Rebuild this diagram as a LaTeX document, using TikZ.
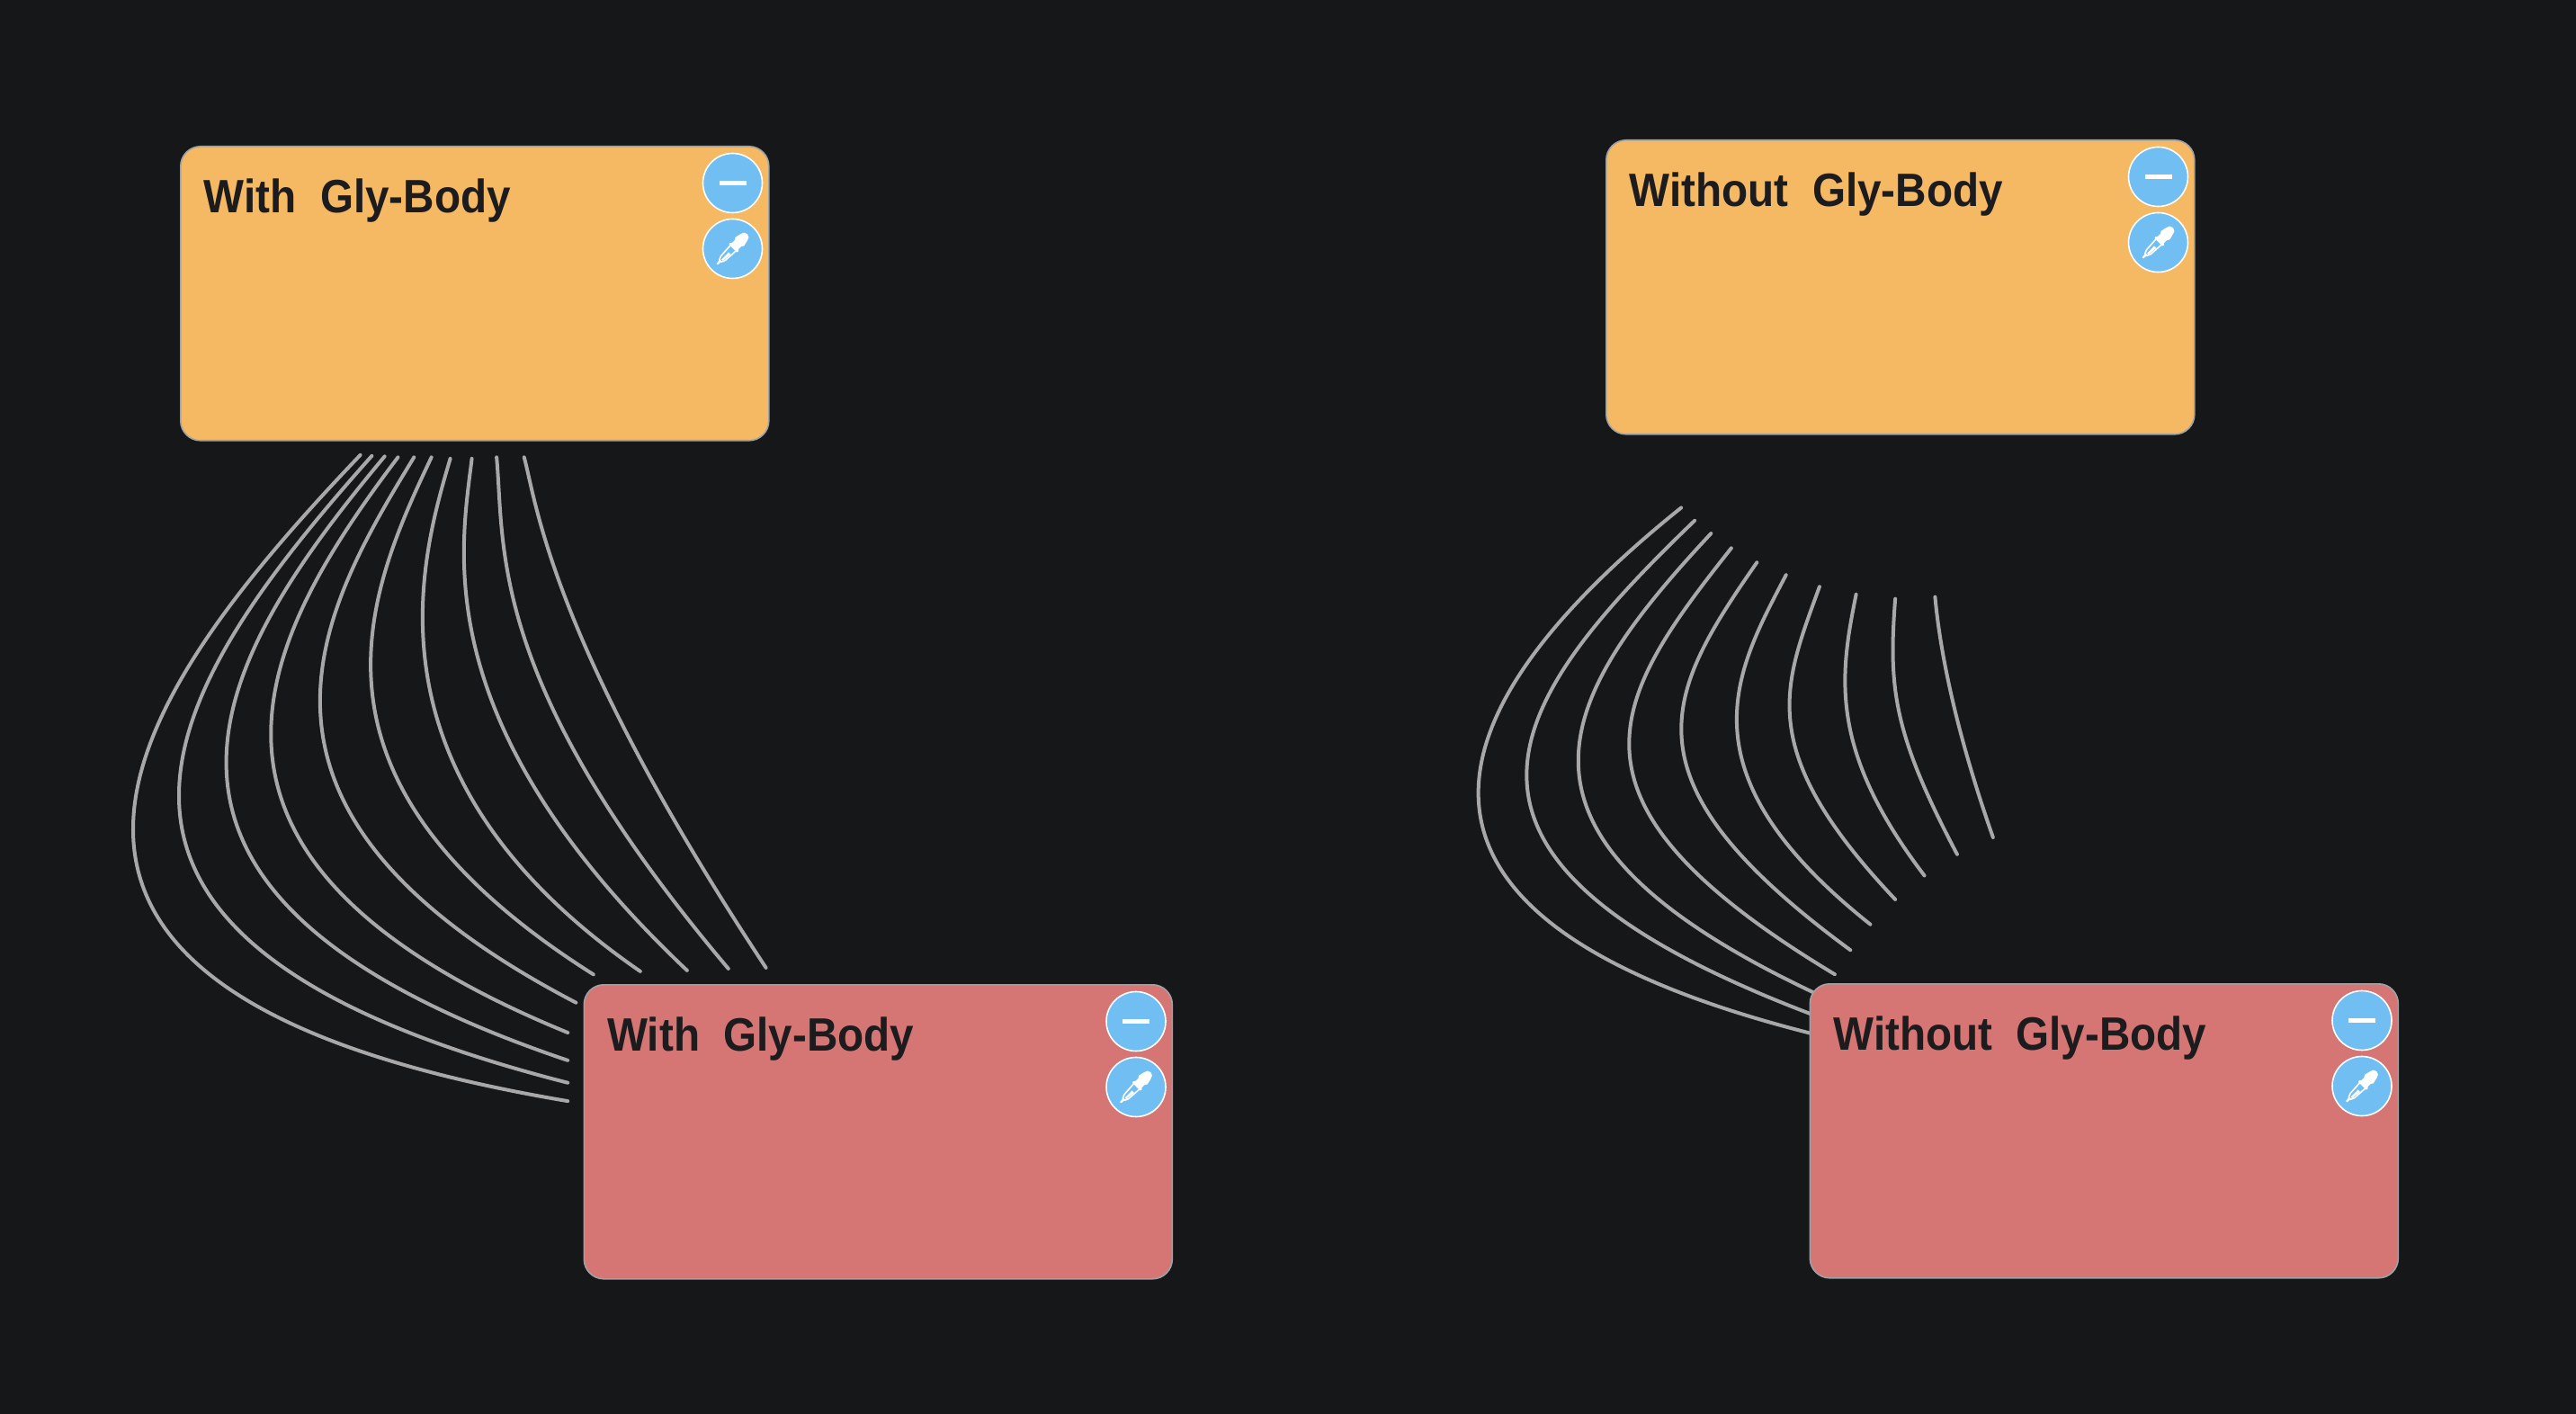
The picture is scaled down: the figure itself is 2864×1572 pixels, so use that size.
\documentclass[tikz,border=0pt]{standalone}
\usepackage{fontspec}
\setmainfont{Liberation Sans}[BoldFeatures={FakeStretch=0.916}]
\definecolor{bgc}{HTML}{151719}
\definecolor{orangec}{HTML}{F4B962}
\definecolor{redc}{HTML}{D67674}
\definecolor{edgec}{HTML}{9EA2A6}
\definecolor{linec}{HTML}{A8A8A8}
\definecolor{btnc}{HTML}{70BEF2}
\definecolor{inkc}{HTML}{1C1C1E}
\tikzset{
  card/.style={draw=edgec,line width=0.8pt,rounded corners=11pt,minimum width=327pt,minimum height=163.5pt,inner sep=0pt},
  cardtitle/.style={anchor=base west,inner sep=0pt,text=inkc,font=\fontsize{26pt}{30pt}\selectfont\bfseries},
  btn/.style={circle,draw=white,line width=0.8pt,fill=btnc,minimum size=33pt,inner sep=0pt},
  fibre/.style={draw=linec,line width=2pt,line cap=round},
}
\newcommand{\cardat}[5]{%
  \node[card,fill=#2,anchor=north west] (#1) at (#3-1.5,#4) {};
  \node[cardtitle] (#1t) at (#3+25,#4+74.5) {#5};
  \node[btn] (#1m) at (#3+613,#4+41.5) {};
  \node[btn] (#1d) at (#3+613,#4+114.5) {};
  \fill[white] ([xshift=-7.5pt,yshift=-1.3pt]#1m.center) rectangle ([xshift=7.5pt,yshift=1.3pt]#1m.center);
  \begin{scope}[shift={(#1d.center)},rotate=45,x=1pt,y=1pt]
    \fill[white] (2.2,-2.5) -- (4.2,-2.5) .. controls (5,-2.5) and (5,-3.4) .. (5.6,-3.4) -- (9,-2.6)
       arc[start angle=-90,end angle=90,radius=2.6] -- (5.6,3.4) .. controls (5,3.4) and (5,2.5) .. (4.2,2.5) -- (2.2,2.5)
       .. controls (1.4,3.6) and (0.6,3.6) .. (0.2,3) -- (0.2,-3) .. controls (0.6,-3.6) and (1.4,-3.6) .. (2.2,-2.5) -- cycle;
    \draw[white,line width=0.8pt,line join=round] (0.5,-2.2) -- (-7.5,-1.7) -- (-9.6,-0.8) -- (-9.6,0.8) -- (-7.5,1.7) -- (0.5,2.2);
    \fill[white] (-9.5,-0.7) -- (-12.2,-0.5) -- (-12.2,0.5) -- (-9.5,0.7) -- cycle;
    \fill[white] (-8.6,-0.9) -- (-3,-1.5) -- (-3,0.2) -- (-8.6,0.1) -- cycle;
  \end{scope}
}
\begin{document}
\begin{tikzpicture}[x=0.5pt,y=-0.5pt]
\useasboundingbox[fill=bgc] (0,0) rectangle (2864,1572);

% left bundle: frame of 1.96 x 2.01 units per px, origin (120,480)
\begin{scope}[shift={(120,480)},x=0.5pt/1.96,y=-0.5pt/2.01]
\foreach \xa/\ya/\xb/\yb/\xc/\yc/\xd/\yd [count=\i] in {
  550/52/36/604/-407/1253/1002/1496,
  575/54/120/578/-232/1132/1002/1455,
  603/55/234/509/-80/1031/1002/1405,
  632/57/336/459/69/951/1002/1343,
  667/57/463/400/210/843/1020/1276,
  705/57/560/370/390/780/1058/1213,
  746/60/683/280/540/768/1160/1206,
  793/60/770/259/690/650/1262/1204,
  847/57/865/260/825/560/1352/1200,
  907/57/934/159/965/470/1434/1198}{
  \coordinate (la\i) at (\xa,\ya);
  \coordinate (lb\i) at (\xd,\yd);
  \draw[fibre] (la\i) .. controls (\xb,\yb) and (\xc,\yc) .. (lb\i);
}
\end{scope}

% right bundle: frame of 2.529 x 2.45 units per px, origin (1620,540)
\begin{scope}[shift={(1620,540)},x=0.5pt/2.529,y=-0.5pt/2.45]
\foreach \xa/\ya/\xb/\yb/\xc/\yc/\xd/\yd [count=\i] in {
  630/60/-67/602/-315/1173/1000/1493,
  668/95/120/605/-154/1016/1000/1441,
  714/130/267/594/69/955/1010/1384,
  771/170/430/587/252/859/1062/1331,
  843/209/582/572/455/802/1106/1265,
  925/243/784/505/619/777/1162/1195,
  1019/275/917/548/834/719/1232/1127,
  1122/296/1075/520/1045/720/1314/1062,
  1232/308/1213/550/1225/672/1406/1004,
  1344/303/1355/420/1390/635/1507/958}{
  \coordinate (ra\i) at (\xa,\ya);
  \coordinate (rb\i) at (\xd,\yd);
  \draw[fibre] (ra\i) .. controls (\xb,\yb) and (\xc,\yc) .. (rb\i);
}
\end{scope}

\cardat{wo}{orangec}{201.5}{162}{With\ \ Gly-Body}
\cardat{ot}{orangec}{1786.5}{155}{Without\ \ Gly-Body}
\cardat{wr}{redc}{650}{1094}{With\ \ Gly-Body}
\cardat{or}{redc}{2013}{1093}{Without\ \ Gly-Body}
\end{tikzpicture}
\end{document}
